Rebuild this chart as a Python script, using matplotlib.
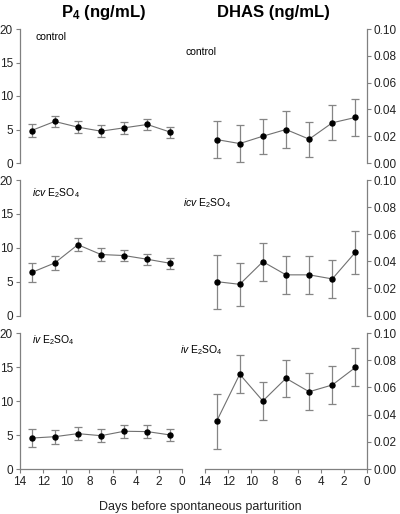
import matplotlib
matplotlib.use("Agg")
import matplotlib.pyplot as plt

plt.rcParams['font.family'] = ['Liberation Sans', 'DejaVu Sans']
plt.rcParams['mathtext.fontset'] = 'custom'
plt.rcParams['mathtext.rm'] = 'Liberation Sans'
plt.rcParams['mathtext.it'] = 'Liberation Sans:italic'
plt.rcParams['mathtext.bf'] = 'Liberation Sans:bold'

days = [13, 11, 9, 7, 5, 3, 1]

p4_control = [4.85, 6.2, 5.35, 4.75, 5.25, 5.75, 4.6]
p4_control_err = [1.0, 0.8, 0.85, 0.85, 0.85, 0.85, 0.8]
p4_icv = [6.35, 7.75, 10.45, 9.0, 8.85, 8.3, 7.7]
p4_icv_err = [1.35, 1.1, 0.95, 0.9, 0.85, 0.85, 0.85]
p4_iv = [4.55, 4.75, 5.2, 4.9, 5.55, 5.5, 5.0]
p4_iv_err = [1.35, 1.0, 1.0, 0.95, 0.95, 1.0, 0.9]

dhas_control = [0.0175, 0.0145, 0.020, 0.025, 0.0178, 0.030, 0.034]
dhas_control_err = [0.014, 0.014, 0.013, 0.014, 0.013, 0.013, 0.0135]
dhas_icv = [0.025, 0.023, 0.0397, 0.030, 0.030, 0.027, 0.0467]
dhas_icv_err = [0.020, 0.0157, 0.014, 0.014, 0.014, 0.014, 0.016]
dhas_iv = [0.035, 0.0697, 0.050, 0.0667, 0.0568, 0.0618, 0.0747]
dhas_iv_err = [0.020, 0.014, 0.0138, 0.0138, 0.0137, 0.014, 0.014]

x_ticks = [14, 12, 10, 8, 6, 4, 2, 0]
p4_ticks = [0, 5, 10, 15, 20]
dhas_ticks = [0.00, 0.02, 0.04, 0.06, 0.08, 0.10]

titles = ["$\\mathbf{P_4}$ (ng/mL)", "DHAS (ng/mL)"]
group_labels = ["control", "$\\mathit{icv}$ E$_2$SO$_4$", "$\\mathit{iv}$ E$_2$SO$_4$"]
xlabel = "Days before spontaneous parturition"

left_data = [(p4_control, p4_control_err), (p4_icv, p4_icv_err), (p4_iv, p4_iv_err)]
right_data = [(dhas_control, dhas_control_err), (dhas_icv, dhas_icv_err), (dhas_iv, dhas_iv_err)]

W, H = 400, 514
fig = plt.figure(figsize=(W / 100, H / 100), dpi=100)

rows_px = [(29, 163), (180, 315.5), (333, 469)]
left_x = (20, 182)
right_x = (205, 367)

spine_col = '#808080'
txt_col = '#222222'
label_pos_left = [(35, 37), (32, 193), (32, 340)]
label_pos_right = [(185, 52), (183, 203), (180, 350)]


def rect(xr, yr):
    return [xr[0] / W, 1 - yr[1] / H, (xr[1] - xr[0]) / W, (yr[1] - yr[0]) / H]


def draw(ax, y, e):
    ax.errorbar(days, y, yerr=e, fmt='none', ecolor='#858585', elinewidth=0.9,
                capsize=3, capthick=0.9, zorder=2)
    ax.plot(days, y, '-', color='#707070', lw=0.8, zorder=3)
    ax.plot(days, y, 'o', color='black', ms=3.6, zorder=4)


for i, yr in enumerate(rows_px):
    axl = fig.add_axes(rect(left_x, yr))
    axr = fig.add_axes(rect(right_x, yr))
    draw(axl, *left_data[i])
    draw(axr, *right_data[i])
    for ax in (axl, axr):
        ax.set_xlim(14, 0)
        ax.patch.set_visible(False)
        for s in ax.spines.values():
            s.set_color(spine_col)
            s.set_linewidth(0.9)
        ax.spines['top'].set_visible(False)
        ax.tick_params(colors=spine_col, labelcolor=txt_col, labelsize=8.5,
                       length=3, width=0.8, direction='out', pad=2)
        if i < 2:
            ax.spines['bottom'].set_visible(False)
            ax.set_xticks([])
        else:
            ax.set_xticks(x_ticks)
            ax.set_xticklabels([str(t) for t in x_ticks])
    axl.spines['right'].set_visible(False)
    axl.set_ylim(0, 20)
    axl.set_yticks(p4_ticks)
    axr.spines['left'].set_visible(False)
    axr.set_ylim(0, 0.10)
    axr.set_yticks(dhas_ticks)
    axr.set_yticklabels([f"{t:.2f}" for t in dhas_ticks])
    axr.yaxis.tick_right()
    fig.text(label_pos_left[i][0] / W, 1 - label_pos_left[i][1] / H, group_labels[i],
             fontsize=7.5, ha='left', va='center', color='black')
    fig.text(label_pos_right[i][0] / W, 1 - label_pos_right[i][1] / H, group_labels[i],
             fontsize=7.5, ha='left', va='center', color='black')

fig.text(103 / W, 1 - 13 / H, titles[0], fontsize=12, fontweight='bold',
         ha='center', va='center', color='black')
fig.text(273 / W, 1 - 13 / H, titles[1], fontsize=12, fontweight='bold',
         ha='center', va='center', color='black')
fig.text(200 / W, 1 - 507 / H, xlabel, fontsize=9, ha='center', va='center', color=txt_col)

fig.savefig("out.png", dpi=100)
